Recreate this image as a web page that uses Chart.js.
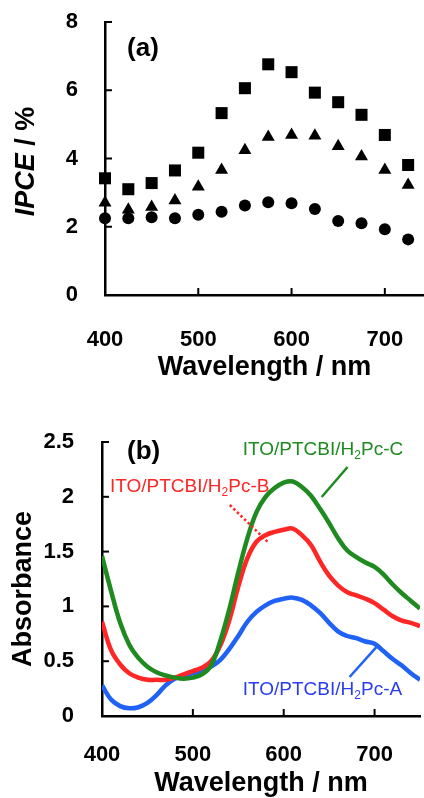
<!DOCTYPE html>
<html><head><meta charset="utf-8">
<script src="https://cdn.jsdelivr.net/npm/chart.js@4.4.0/dist/chart.umd.min.js"></script>
<style>
html,body{margin:0;padding:0;background:#fff;overflow:hidden;width:424px;height:798px;}
#ca{position:absolute;left:0;top:0;}
#cb{position:absolute;left:0;top:400px;}
</style></head><body>
<canvas id="ca" width="424" height="400"></canvas>
<canvas id="cb" width="424" height="420"></canvas>
<script>
// ---------- (a) IPCE data ----------
const ipceWavelengths = [400,425,450,475,500,525,550,575,600,625,650,675,700,725];
const ipceSquares   = [3.42,3.10,3.28,3.65,4.17,5.33,6.06,6.76,6.53,5.93,5.65,5.28,4.69,3.81];
const ipceTriangles = [2.70,2.50,2.58,2.77,3.17,3.66,4.24,4.63,4.69,4.67,4.36,4.06,3.66,3.22];
const ipceCircles   = [2.25,2.25,2.28,2.25,2.35,2.44,2.62,2.72,2.69,2.52,2.17,2.10,1.93,1.63];
const ipceXTicks = [400,500,600,700];
const ipceYTicks = [0,2,4,6,8];

// ---------- (b) Absorbance data ----------
const absWavelengths = [400,410,420,430,440,450,460,470,480,490,500,510,520,530,540,550,560,570,580,590,600,610,620,630,640,650,660,670,680,690,700,710,720,730,740,750];
const absA = [0.28,0.15,0.09,0.07,0.08,0.12,0.19,0.28,0.34,0.37,0.39,0.41,0.45,0.51,0.61,0.73,0.86,0.95,1.01,1.05,1.07,1.08,1.06,1.01,0.94,0.85,0.77,0.73,0.71,0.68,0.66,0.59,0.52,0.46,0.39,0.33];
const absB = [0.86,0.60,0.47,0.39,0.35,0.33,0.33,0.33,0.35,0.38,0.41,0.44,0.50,0.64,0.87,1.18,1.44,1.59,1.65,1.68,1.70,1.71,1.65,1.56,1.41,1.28,1.19,1.13,1.10,1.07,1.03,0.97,0.91,0.87,0.85,0.82];
const absC = [1.46,1.14,0.85,0.65,0.53,0.45,0.40,0.37,0.35,0.34,0.35,0.38,0.46,0.68,0.97,1.31,1.62,1.86,2.00,2.08,2.13,2.14,2.09,2.01,1.89,1.76,1.62,1.51,1.45,1.40,1.36,1.29,1.20,1.12,1.05,0.98];
const absXTicks = [400,500,600,700];
const absYTicks = [0,0.5,1,1.5,2,2.5];
const absNames = [['ITO/PTCBI/H','2','Pc-A'],['ITO/PTCBI/H','2','Pc-B'],['ITO/PTCBI/H','2','Pc-C']];

const FAM = '"Liberation Sans", Arial, Helvetica, sans-serif';
const GREEN = '#1f8a1f', RED = '#ff2626', BLUE = '#1f62f5', BLUE_T = '#2a3cf2';

function pts(xs, ys){ return xs.map((x,i)=>({x:x, y:ys[i]})); }

function inwardTicks(xTicks, yTicks){
  return {
    id:'inwardTicks',
    afterDraw(chart){
      const {ctx, chartArea:a, scales:{x, y}} = chart;
      ctx.save();
      ctx.strokeStyle = '#000'; ctx.lineWidth = 2;
      xTicks.forEach(v=>{ const p = x.getPixelForValue(v); ctx.beginPath(); ctx.moveTo(p, a.bottom); ctx.lineTo(p, a.bottom-7); ctx.stroke(); });
      yTicks.forEach(v=>{ const p = y.getPixelForValue(v); ctx.beginPath(); ctx.moveTo(a.left, p); ctx.lineTo(a.left+7, p); ctx.stroke(); });
      ctx.restore();
    }
  };
}

function baseScales(o){
  return {
    x:{type:'linear', position:'bottom', min:o.xmin, max:o.xmax,
       grid:{display:false}, border:{display:true, color:'#000', width:2.5},
       afterBuildTicks:s=>{ s.ticks = o.xTicks.map(v=>({value:v})); s.min = o.xmin; s.max = o.xmax; },
       ticks:{color:'#000', font:{family:FAM, size:22, weight:'bold'}, padding:o.xPad, maxRotation:0, autoSkip:false, callback:v=>String(v)},
       title:{display:true, text:'Wavelength / nm', color:'#000', font:{family:FAM, size:27, weight:'bold'}, padding:{top:0, bottom:o.titlePad}},
       afterFit:s=>{ s.height = o.xHeight; s.paddingLeft = 0; s.paddingRight = 0; }},
    y:{type:'linear', position:'left', min:o.ymin, max:o.ymax,
       grid:{display:false}, border:{display:true, color:'#000', width:2.5},
       afterBuildTicks:s=>{ s.ticks = o.yTicks.map(v=>({value:v})); s.min = o.ymin; s.max = o.ymax; },
       ticks:{color:'#000', font:{family:FAM, size:22, weight:'bold'}, padding:o.yPad, autoSkip:false, callback:v=>String(v)},
       title:{display:false},
       afterFit:s=>{ s.width = o.yWidth; s.paddingTop = 0; s.paddingBottom = 0; }}
  };
}

// ---------- chart (a) ----------
const plotA = {
  id:'plotA',
  afterDraw(chart){
    const {ctx, scales:{x, y}} = chart;
    ctx.save();
    ctx.fillStyle = '#000';
    ctx.font = 'bold 26px ' + FAM; ctx.textBaseline = 'middle'; ctx.textAlign = 'left';
    ctx.fillText('(a)', x.getPixelForValue(423.6), y.getPixelForValue(7.21));
    // y title with italic IPCE
    const f1 = 'italic bold 27px ' + FAM, f2 = 'bold 27px ' + FAM;
    ctx.font = f1; const w1 = ctx.measureText('IPCE').width;
    ctx.font = f2; const w2 = ctx.measureText(' / %').width;
    ctx.translate(26.5, 161.5); ctx.rotate(-Math.PI/2);
    let sx = -(w1+w2)/2;
    ctx.font = f1; ctx.fillText('IPCE', sx, 0);
    ctx.font = f2; ctx.fillText(' / %', sx + w1, 0);
    ctx.restore();
  }
};

new Chart(document.getElementById('ca'), {
  type:'scatter',
  data:{datasets:[
    {label:'circle', data:pts(ipceWavelengths, ipceCircles), pointStyle:'circle', pointRadius:6, backgroundColor:'#000', borderWidth:0, clip:false},
    {label:'triangle', data:pts(ipceWavelengths, ipceTriangles), pointStyle:'triangle', pointRadius:7.5, backgroundColor:'#000', borderWidth:0, clip:false},
    {label:'square', data:pts(ipceWavelengths, ipceSquares), pointStyle:'rect', pointRadius:8.5, backgroundColor:'#000', borderWidth:0, clip:false}
  ]},
  options:{
    responsive:false, animation:false, devicePixelRatio:1,
    layout:{autoPadding:false, padding:{top:22, right:0, bottom:0, left:0}},
    plugins:{legend:{display:false}, tooltip:{enabled:false}},
    scales: baseScales({xmin:400, xmax:742, ymin:0, ymax:8, xTicks:ipceXTicks, yTicks:ipceYTicks, xPad:24, yPad:19, titlePad:16, xHeight:105, yWidth:105})
  },
  plugins:[inwardTicks(ipceXTicks, ipceYTicks), plotA]
});

// ---------- chart (b) ----------
function richText(ctx, x, y, parts, size, color){
  ctx.fillStyle = color; ctx.textBaseline = 'middle'; ctx.textAlign = 'left';
  ctx.font = size + 'px ' + FAM; ctx.fillText(parts[0], x, y); x += ctx.measureText(parts[0]).width;
  ctx.font = Math.round(size*0.65) + 'px ' + FAM; ctx.fillText(parts[1], x, y + size*0.28); x += ctx.measureText(parts[1]).width;
  ctx.font = size + 'px ' + FAM; ctx.fillText(parts[2], x, y);
}
const plotB = {
  id:'plotB',
  afterDraw(chart){
    const {ctx, scales:{x, y}} = chart;
    const P = (a,b)=>[x.getPixelForValue(a), y.getPixelForValue(b)];
    ctx.save();
    ctx.fillStyle = '#000';
    ctx.font = 'bold 26px ' + FAM; ctx.textBaseline = 'middle'; ctx.textAlign = 'left';
    let p = P(427.5, 2.409); ctx.fillText('(b)', p[0], p[1]);
    // leaders
    ctx.lineWidth = 2.5; ctx.lineCap = 'butt';
    let a = P(670.3,2.272), b = P(641.8,1.998);
    ctx.strokeStyle = GREEN; ctx.beginPath(); ctx.moveTo(a[0],a[1]); ctx.lineTo(b[0],b[1]); ctx.stroke();
    a = P(702.2,0.630); b = P(672.5,0.356);
    ctx.strokeStyle = BLUE; ctx.beginPath(); ctx.moveTo(a[0],a[1]); ctx.lineTo(b[0],b[1]); ctx.stroke();
    a = P(540.7,1.925); b = P(582.4,1.588);
    ctx.strokeStyle = RED; ctx.setLineDash([2.5,2.5]); ctx.beginPath(); ctx.moveTo(a[0],a[1]); ctx.lineTo(b[0],b[1]); ctx.stroke();
    ctx.setLineDash([]);
    // labels
    p = P(554.9, 2.427); richText(ctx, p[0], p[1], absNames[2], 19, GREEN);
    p = P(408.8, 2.089); richText(ctx, p[0], p[1], absNames[1], 19, RED);
    p = P(554.9, 0.237); richText(ctx, p[0], p[1], absNames[0], 19, BLUE_T);
    // y title
    ctx.fillStyle = '#000'; ctx.font = 'bold 27px ' + FAM; ctx.textAlign = 'center'; ctx.textBaseline = 'middle';
    ctx.translate(24, 189); ctx.rotate(-Math.PI/2); ctx.fillText('Absorbance', 0, 0);
    ctx.restore();
  }
};

new Chart(document.getElementById('cb'), {
  type:'line',
  data:{datasets:[
    {label:absNames[2].join(''), data:pts(absWavelengths, absC), borderColor:GREEN, borderWidth:4.5, pointRadius:0, tension:0.4, fill:false},
    {label:absNames[1].join(''), data:pts(absWavelengths, absB), borderColor:RED, borderWidth:4.5, pointRadius:0, tension:0.4, fill:false},
    {label:absNames[0].join(''), data:pts(absWavelengths, absA), borderColor:BLUE, borderWidth:4.5, pointRadius:0, tension:0.4, fill:false}
  ]},
  options:{
    responsive:false, animation:false, devicePixelRatio:1,
    layout:{autoPadding:false, padding:{top:42, right:4, bottom:0, left:0}},
    plugins:{legend:{display:false}, tooltip:{enabled:false}},
    scales: baseScales({xmin:400, xmax:750, ymin:0, ymax:2.5, xTicks:absXTicks, yTicks:absYTicks, xPad:18, yPad:20, titlePad:20, xHeight:104, yWidth:102})
  },
  plugins:[inwardTicks(absXTicks, absYTicks), plotB]
});
</script>
</body></html>
